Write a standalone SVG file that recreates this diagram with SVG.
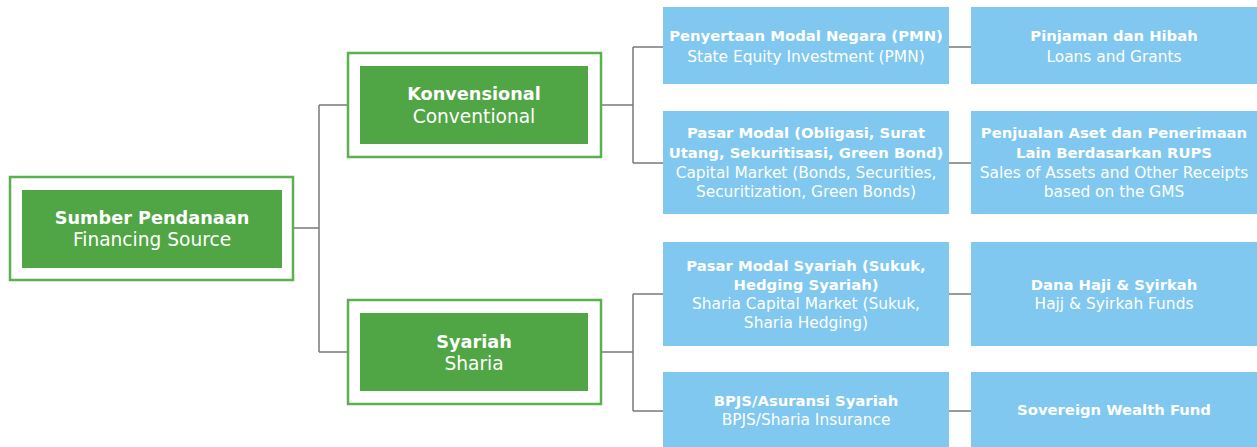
<svg xmlns="http://www.w3.org/2000/svg" width="1257" height="447" viewBox="0 0 1257 447">
  <style>
    .frame { fill: #ffffff; stroke: #5cb14f; stroke-width: 2.5; }
    .green { fill: #50a544; }
    .blue { fill: #80c8ef; }
    .link { fill: none; stroke: #7a7a7a; stroke-width: 1.5; }
    text { font-family: "DejaVu Sans", "Liberation Sans", sans-serif; fill: #ffffff; text-anchor: middle; }
    .gb { font-size: 17.7px; font-weight: 700; }
    .gr { font-size: 18.6px; font-weight: 400; }
    .bb { font-size: 14.8px; font-weight: 700; }
    .br { font-size: 15.4px; font-weight: 400; }
  </style>

  <g id="connectors">
    <path class="link" d="M294 228 H319 M319 105 V352 M319 105 H348 M319 352 H348"/>
    <path class="link" d="M601 105 H633 M633 47 V163 M633 47 H663 M633 163 H663"/>
    <path class="link" d="M601 352 H633 M633 294 V411 M633 294 H663 M633 411 H663"/>
    <path class="link" d="M949 47 H971 M949 163 H971 M949 294 H971 M949 411 H971"/>
  </g>

  <g id="root">
    <rect class="frame" x="10" y="177" width="283" height="103"/>
    <rect class="green" x="22" y="190" width="260" height="78"/>
    <text class="gb" x="152" y="224">Sumber Pendanaan</text>
    <text class="gr" x="152" y="246">Financing Source</text>
  </g>

  <g id="konvensional">
    <rect class="frame" x="348" y="53" width="253" height="104"/>
    <rect class="green" x="360" y="66" width="228" height="78"/>
    <text class="gb" x="474" y="100">Konvensional</text>
    <text class="gr" x="474" y="123">Conventional</text>
  </g>

  <g id="syariah">
    <rect class="frame" x="348" y="300" width="253" height="104"/>
    <rect class="green" x="360" y="313" width="228" height="78"/>
    <text class="gb" x="474" y="348">Syariah</text>
    <text class="gr" x="474" y="370">Sharia</text>
  </g>

  <g id="pmn">
    <rect class="blue" x="663" y="7" width="286" height="77"/>
    <text class="bb" x="806" y="41">Penyertaan Modal Negara (PMN)</text>
    <text class="br" x="806" y="62">State Equity Investment (PMN)</text>
  </g>

  <g id="pinjaman">
    <rect class="blue" x="971" y="7" width="286" height="77"/>
    <text class="bb" x="1114" y="41">Pinjaman dan Hibah</text>
    <text class="br" x="1114" y="62">Loans and Grants</text>
  </g>

  <g id="pasar-modal">
    <rect class="blue" x="663" y="111" width="286" height="103"/>
    <text class="bb" x="806" y="138">Pasar Modal (Obligasi, Surat</text>
    <text class="bb" x="806" y="158">Utang, Sekuritisasi, Green Bond)</text>
    <text class="br" x="806" y="178">Capital Market (Bonds, Securities,</text>
    <text class="br" x="806" y="197">Securitization, Green Bonds)</text>
  </g>

  <g id="penjualan-aset">
    <rect class="blue" x="971" y="111" width="286" height="103"/>
    <text class="bb" x="1114" y="138">Penjualan Aset dan Penerimaan</text>
    <text class="bb" x="1114" y="158">Lain Berdasarkan RUPS</text>
    <text class="br" x="1114" y="178">Sales of Assets and Other Receipts</text>
    <text class="br" x="1114" y="197">based on the GMS</text>
  </g>

  <g id="pasar-modal-syariah">
    <rect class="blue" x="663" y="242" width="286" height="104"/>
    <text class="bb" x="806" y="271">Pasar Modal Syariah (Sukuk,</text>
    <text class="bb" x="806" y="290">Hedging Syariah)</text>
    <text class="br" x="806" y="309">Sharia Capital Market (Sukuk,</text>
    <text class="br" x="806" y="328">Sharia Hedging)</text>
  </g>

  <g id="dana-haji">
    <rect class="blue" x="971" y="242" width="286" height="104"/>
    <text class="bb" x="1114" y="290">Dana Haji &amp; Syirkah</text>
    <text class="br" x="1114" y="309">Hajj &amp; Syirkah Funds</text>
  </g>

  <g id="bpjs">
    <rect class="blue" x="663" y="372" width="286" height="75"/>
    <text class="bb" x="806" y="406">BPJS/Asuransi Syariah</text>
    <text class="br" x="806" y="425">BPJS/Sharia Insurance</text>
  </g>

  <g id="swf">
    <rect class="blue" x="971" y="372" width="286" height="75"/>
    <text class="bb" x="1114" y="415">Sovereign Wealth Fund</text>
  </g>
</svg>
